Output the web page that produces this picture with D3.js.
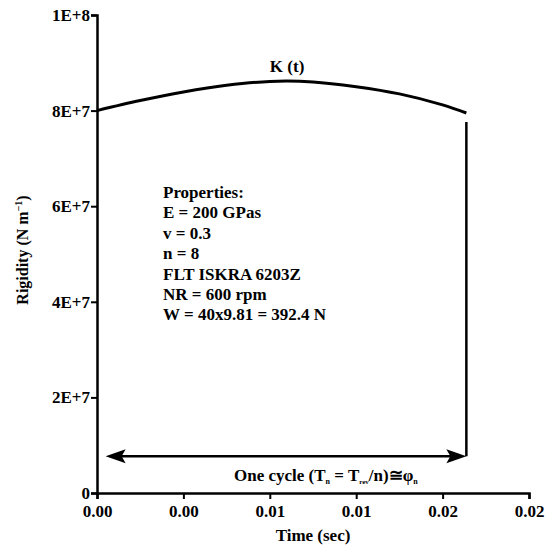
<html>
<head>
  <style>
    body { margin: 0; background: white; }
    svg text { font-family: 'Liberation Serif', 'Tinos', 'Times New Roman', 'DejaVu Serif', serif !important; font-weight: bold; fill: black; }
  </style>
  <script src="https://cdnjs.cloudflare.com/ajax/libs/d3/7.8.5/d3.min.js"></script>
</head>
<body>
<div id="chart"></div>
<script>
  // time (sec) and rigidity K(t) (N/m)
  var time = [0, 0.002, 0.004, 0.006, 0.008, 0.010, 0.012, 0.014, 0.016, 0.0171];
  var rigidity = [80.0e6, 82.1e6, 83.9e6, 85.3e6, 86.1e6, 86.0e6, 85.0e6, 83.5e6, 81.2e6, 79.5e6];

  var xTicks = [0, 0.004, 0.008, 0.012, 0.016, 0.02];
  var yTicks = [0, 2e7, 4e7, 6e7, 8e7, 1e8];

  var properties = [
    'Properties:',
    'E = 200 GPas',
    'v = 0.3',
    'n = 8',
    'FLT ISKRA 6203Z',
    'NR = 600 rpm',
    'W = 40x9.81 = 392.4 N'
  ];

  var cycleStart = 0.0004, cycleEnd = 0.0171, cycleLevel = 7.7e6, cycleTop = 77.6e6;

  var width = 554, height = 548;
  var svg = d3.select('#chart').append('svg')
      .attr('width', width)
      .attr('height', height);

  var x = d3.scaleLinear().domain([0, 0.02]).range([97, 529]);
  var y = d3.scaleLinear().domain([0, 1e8]).range([493, 15]);

  function sci(d) {
    if (d === 0) return '0';
    return d3.format('.0e')(d).toUpperCase();
  }

  var xAxis = svg.append('g')
      .attr('transform', 'translate(0,' + y(0) + ')')
      .call(d3.axisBottom(x).tickValues(xTicks).tickFormat(d3.format('.2f')).tickSizeOuter(0).tickSize(6));
  var yAxis = svg.append('g')
      .attr('transform', 'translate(' + x(0) + ',0)')
      .call(d3.axisLeft(y).tickValues(yTicks).tickFormat(sci).tickSizeOuter(0).tickSize(6));

  [xAxis, yAxis].forEach(function(ax) {
    ax.attr('font-family', null).attr('font-size', null);
    ax.select('.domain').attr('stroke', 'black').attr('stroke-width', 2.5);
    ax.selectAll('.tick line').attr('stroke', 'black').attr('stroke-width', 2);
    ax.selectAll('.tick text')
        .style('font-size', '17px')
        .attr('fill', 'black');
  });
  xAxis.selectAll('.tick text').attr('dy', '0.9em');
  yAxis.selectAll('.tick text').attr('x', -7);

  // K(t) curve
  var pts = time.map(function(t, i) { return [t, rigidity[i]]; });
  var line = d3.line()
      .x(function(d) { return x(d[0]); })
      .y(function(d) { return y(d[1]); })
      .curve(d3.curveCatmullRom);
  svg.append('path')
      .datum(pts)
      .attr('d', line)
      .attr('fill', 'none')
      .attr('stroke', 'black')
      .attr('stroke-width', 3);

  svg.append('text')
      .attr('x', x(0.0088))
      .attr('y', 72)
      .attr('text-anchor', 'middle')
      .style('font-size', '17px')
      .text('K (t)');

  // end-of-cycle marker and cycle arrow
  svg.append('line')
      .attr('x1', x(cycleEnd)).attr('x2', x(cycleEnd))
      .attr('y1', y(cycleTop)).attr('y2', y(cycleLevel))
      .attr('stroke', 'black').attr('stroke-width', 2.5);

  var ay = y(cycleLevel), ax0 = x(cycleStart), ax1 = x(cycleEnd);
  svg.append('line')
      .attr('x1', ax0 + 10).attr('x2', ax1 - 10)
      .attr('y1', ay).attr('y2', ay)
      .attr('stroke', 'black').attr('stroke-width', 2.5);
  svg.append('path')
      .attr('d', 'M' + ax0 + ',' + ay + 'L' + (ax0 + 20) + ',' + (ay - 7) + 'L' + (ax0 + 16) + ',' + ay + 'L' + (ax0 + 20) + ',' + (ay + 7) + 'Z')
      .attr('fill', 'black');
  svg.append('path')
      .attr('d', 'M' + ax1 + ',' + ay + 'L' + (ax1 - 20) + ',' + (ay - 7) + 'L' + (ax1 - 16) + ',' + ay + 'L' + (ax1 - 20) + ',' + (ay + 7) + 'Z')
      .attr('fill', 'black');

  var cyc = svg.append('text')
      .attr('x', 234)
      .attr('y', 481)
      .style('font-size', '17px');
  cyc.append('tspan').text('One cycle (T');
  cyc.append('tspan').attr('dy', 3).style('font-size', '8px').text('n');
  cyc.append('tspan').attr('dy', -3).text(' = T');
  cyc.append('tspan').attr('dy', 3).style('font-size', '7px').text('rev');
  cyc.append('tspan').attr('dy', -3).text('/n)\u2245\u03c6');
  cyc.append('tspan').attr('dy', 3).style('font-size', '8px').text('n');

  // properties block
  svg.append('g').selectAll('text')
      .data(properties)
      .enter().append('text')
      .attr('x', 163)
      .attr('y', function(d, i) { return 198 + i * 20.4; })
      .style('font-size', '17px')
      .text(function(d) { return d; });

  // axis titles
  svg.append('text')
      .attr('x', x(0.01))
      .attr('y', 541)
      .attr('text-anchor', 'middle')
      .style('font-size', '17px')
      .text('Time (sec)');

  var yl = svg.append('text')
      .attr('transform', 'translate(28,250) rotate(-90)')
      .attr('text-anchor', 'middle')
      .style('font-size', '16px');
  yl.append('tspan').text('Rigidity (N m');
  yl.append('tspan').attr('dy', -6).style('font-size', '10px').text('\u22121');
  yl.append('tspan').attr('dy', 6).text(')');
</script>
</body>
</html>
